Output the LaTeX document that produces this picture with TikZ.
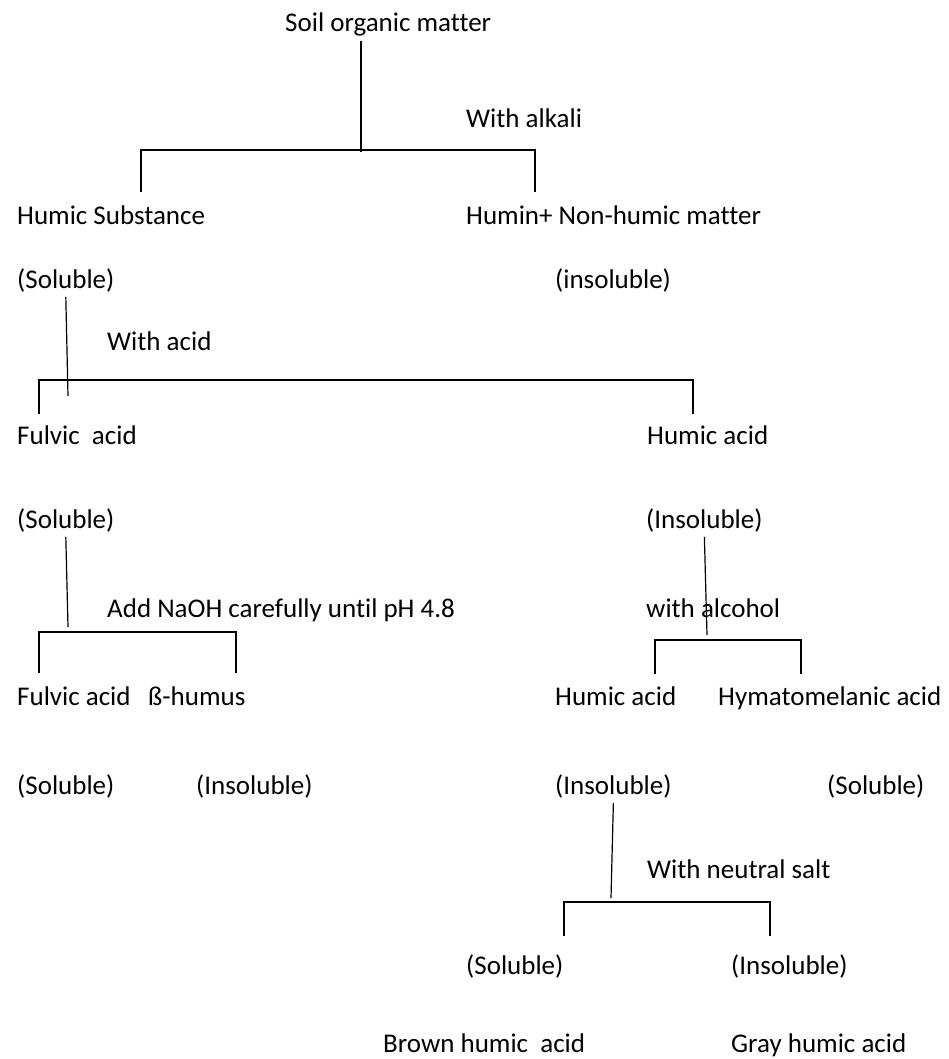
\documentclass[tikz,border=0pt]{standalone}
\usepackage{fontspec}
\setmainfont[Ligatures=NoCommon]{Carlito}
\begin{document}
\begin{tikzpicture}[
    x=1pt, y=-1pt,
    every node/.style={anchor=base west, inner sep=0, font=\fontsize{27}{32}\selectfont},
    bar/.style={line width=2pt},
    link/.style={line width=1.2pt}
  ]
  \useasboundingbox (0,0) rectangle (948,1059);
  \node (som) at (285,32) {Soil organic matter};
  \node (alk) at (466,128) {With alkali};
  \node (hs) at (17,225) {Humic Substance};
  \node (hn) at (466,225) {Humin+ Non-humic matter};
  \node (hss) at (17,288) {(Soluble)};
  \node (hni) at (555,288) {(insoluble)};
  \node (acd) at (107,350) {With acid};
  \node (fa) at (17,444) {Fulvic\ \ acid};
  \node (ha) at (647,444) {Humic acid};
  \node (fas) at (17,528) {(Soluble)};
  \node (hai) at (646,528) {(Insoluble)};
  \node (naoh) at (107,617) {Add NaOH carefully until pH 4.8};
  \node (alc) at (646,617) {with alcohol};
  \node (fa2) at (17,705) {Fulvic acid};
  \node (bh) at (148,705) {ß-humus};
  \node (ha2) at (555,705) {Humic acid};
  \node (hma) at (718,705) {Hymatomelanic acid};
  \node (fa2s) at (17,794) {(Soluble)};
  \node (bhi) at (196,794) {(Insoluble)};
  \node (ha2i) at (555,794) {(Insoluble)};
  \node (hmas) at (827,794) {(Soluble)};
  \node (salt) at (647,878) {With neutral salt};
  \node (bs) at (466,974) {(Soluble)};
  \node (gi) at (731,974) {(Insoluble)};
  \node (bha) at (383,1052) {Brown humic\ \ acid};
  \node (gha) at (731,1052) {Gray humic acid};

  \coordinate (j0) at (361,152);
  \coordinate (j1) at (68,396);
  \coordinate (j2) at (68,627);
  \coordinate (j3) at (707,635);
  \coordinate (j4) at (611,898);
  \draw[bar] ([yshift=-4pt]som.south -| j0) -- (j0);
  \draw[link] ([yshift=-5pt]hss.south) -- (j1);
  \draw[link] ([yshift=-5pt]fas.south) -- (j2);
  \draw[link] ([yshift=-5pt]hai.south) -- (j3);
  \draw[link] ([yshift=-5pt]ha2i.south) -- (j4);

  \coordinate (l0) at (141,192); \coordinate (r0) at (535,192);
  \coordinate (l1) at (39,414);  \coordinate (r1) at (693,414);
  \coordinate (l2) at (39,673);  \coordinate (r2) at (236,673);
  \coordinate (l3) at (655,674); \coordinate (r3) at (801,674);
  \coordinate (l4) at (564,936); \coordinate (r4) at (770,936);
  \draw[bar] (l0) -- ++(0,-42) -| (r0);
  \draw[bar] (l1) -- ++(0,-34) -| (r1);
  \draw[bar] (l2) -- ++(0,-41) -| (r2);
  \draw[bar] (l3) -- ++(0,-34) -| (r3);
  \draw[bar] (l4) -- ++(0,-34) -| (r4);
\end{tikzpicture}
\end{document}
